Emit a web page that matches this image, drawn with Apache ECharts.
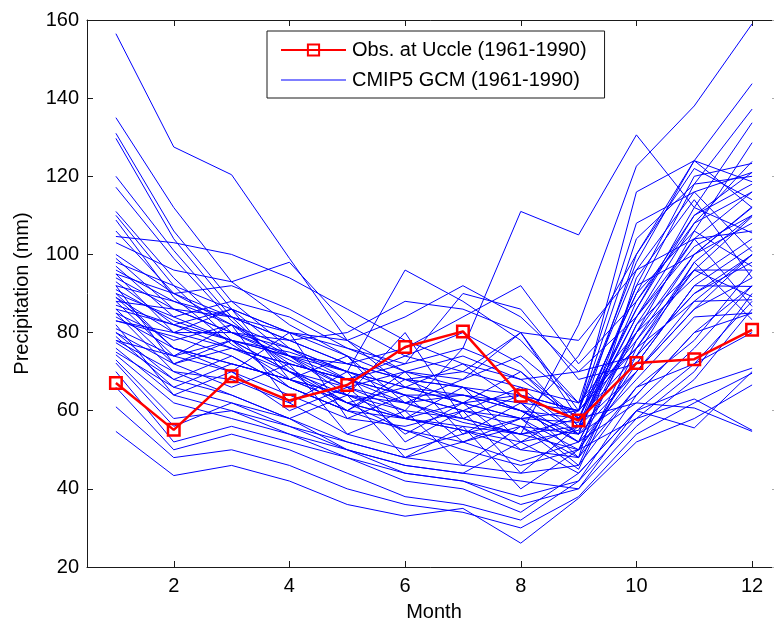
<!DOCTYPE html>
<html>
<head>
<meta charset="utf-8">
<script src="https://cdn.jsdelivr.net/npm/echarts@6/dist/echarts.min.js"></script>
<style>
html,body{margin:0;padding:0;background:#fff;overflow:hidden;}
#chart{width:774px;height:622px;}
</style>
</head>
<body>
<div id="chart"></div>
<script>
// ---- data ----
const months = [1, 2, 3, 4, 5, 6, 7, 8, 9, 10, 11, 12];
const xTickValues = [2, 4, 6, 8, 10, 12];
const yMin = 20, yMax = 160, yStep = 20;
const obsName = 'Obs. at Uccle (1961-1990)';
const gcmName = 'CMIP5 GCM (1961-1990)';
const obsUccle = [67.1, 55.1, 68.8, 62.6, 66.6, 76.3, 80.3, 63.8, 57.5, 72.2, 73.2, 80.7];
const gcmModels = [
  [156.5,127.5,120.4,99,78,70,66,60,54,64,80,92],
  [135,112,93,82,74,68,62,58,60,98,124,143.7],
  [131,106,88,76,68,62,57,54,58,90,118,137.2],
  [129.7,104,86,74,64,58,55,50,56,86,112,133.7],
  [120,101,84,70,60,55,52,47,52,80,106,128.6],
  [117.2,99,83,71,62,58,55,52,55,84,108,123.8],
  [111,94,80,73,66,60,58,54,56,92,120,123.3],
  [110,92,78,75,70,66,62,58,57,100,124,118.6],
  [108.8,89,77,68,62,55,50,46,50,82,104,116],
  [104.6,103,100,94,86,78,72,68,70,74,90,99.9],
  [103,96,93,98,82,74,70,66,62,80,100,112.2],
  [106,90,82,72,68,64,60,56,54,88,110,121],
  [99,86,80,76,70,96,88,78,62,76,96,109.7],
  [97,84,78,70,64,60,76,111,105,130.6,112,105.5],
  [96,88,82,74,66,62,58,54,82,122.6,138,159],
  [95,80,86,68,74,58,66,52,60,96,116,100.7],
  [93,82,86,80,74,62,68,80,58,90,106,96.9],
  [92,72,78,66,60,70,54,62,48,94,114,94],
  [90,84,88,84,76,72,90,86,68,72,92,91.8],
  [90,76,70,80,58,64,52,58,46,78,96,89.2],
  [89,80,76,72,68,74,80,72,56,70,88,88.4],
  [88,74,82,62,70,52,60,44,56,84,104,86.7],
  [87,82,78,70,62,66,72,62,52,68,84,85],
  [86,72,66,72,54,60,46,56,45,76,98,83.3],
  [85,78,82,76,70,64,60,58,74,100,122,114],
  [85,70,64,58,64,48,56,40,50,72,92,102],
  [84,76,72,68,64,80,58,64,60,104,118,120],
  [83,79,74,66,60,58,62,70,58,86,110,118],
  [82,64,70,60,66,54,62,50,48,66,78,96],
  [81,74,70,64,58,56,60,66,54,92,100,108],
  [80,68,74,66,60,68,66,60,52,62,76,92],
  [80,72,76,72,68,72,76,70,56,80,94,104],
  [79,66,62,56,50,46,44,52,44,60,72,88],
  [78,70,68,62,54,50,54,58,50,70,86,94],
  [77.4,68,64,58,52,48,52,56,48,74,90,98],
  [76,64,60,54,48,44,42,38,42,64,80,85],
  [75,66,72,68,62,58,56,54,50,58,70,90],
  [74.3,62,58,54,50,46,44,42,40,56,68,86],
  [72.2,56,62,58,50,44,42,36,40,60,66,70.9],
  [61,48,50,46,40,36,34,30,38,54,62,69.6],
  [54.7,43.4,46,42,36,33,35,26.1,37.6,52,58,66.6],
  [66,50,54,50,44,38,36,32,42,58,63,55],
  [70,52,56,52,48,42,40,34,44,60,55.6,70],
  [73,58,60,56,52,48,46,44,46,66,72,80],
  [100,90,84,80,78,84,92,84,70,84,102,110],
  [94,86,80,78,80,88,86,80,60,78,100,112],
  [91,83,78,74,72,76,84,92,72,88,108,116],
  [98,92,86,80,76,70,68,74,62,108,116,121],
  [88,86,84,78,72,68,70,80,78,96,104,106],
  [95,90,92,86,78,66,62,64,54,70,86,100],
  [83,80,80,74,68,64,64,60,52,82,96,96],
  [86,82,76,70,66,70,74,68,58,74,98,110],
  [89,76,72,68,64,62,64,60,58,62,60.7,54.7],
  [92,88,84,78,72,68,66,64,60,116,124,112],
  [78,74,78,74,70,66,64,62,60,76,88,100]
];

// ---- chart ----
const FONT = '"Liberation Sans", Arial, Helvetica, sans-serif';
const AXIS_COLOR = '#1a1a1a';
const chart = echarts.init(document.getElementById('chart'), null, {renderer: 'canvas'});

const toPairs = row => months.map((m, i) => [m, row[i]]);

const gcmSeries = gcmModels.map(row => ({
  type: 'line',
  name: gcmName,
  data: toPairs(row),
  symbol: 'none',
  showSymbol: false,
  silent: true,
  z: 2,
  lineStyle: {color: '#0000ff', width: 1},
  itemStyle: {color: '#0000ff'}
}));

const obsSeries = {
  type: 'line',
  name: obsName,
  data: toPairs(obsUccle),
  symbol: 'rect',
  symbolSize: 11.5,
  silent: true,
  z: 5,
  lineStyle: {color: '#ff0000', width: 2.5},
  itemStyle: {color: 'rgba(255,255,255,0)', borderColor: '#ff0000', borderWidth: 2.5}
};

const baseX = {
  type: 'value', min: 0.5, max: 12.5,
  axisLine: {show: true, onZero: false, lineStyle: {color: AXIS_COLOR, width: 1}},
  splitLine: {show: false}
};

chart.setOption({
  animation: false,
  backgroundColor: '#ffffff',
  textStyle: {fontFamily: FONT},
  grid: {left: 87, top: 20, width: 694, height: 547, containLabel: false, outerBoundsMode: 'none'},
  legend: {
    show: true,
    data: [
      {name: obsName},
      {name: gcmName, icon: 'path://M0 0H65V1.1H0Z'}
    ],
    orient: 'vertical',
    left: 267,
    top: 31,
    padding: [9, 18, 8, 13],
    itemGap: 10,
    itemWidth: 65,
    itemHeight: 14,
    backgroundColor: '#ffffff',
    borderColor: AXIS_COLOR,
    borderWidth: 1,
    borderRadius: 0,
    selectedMode: false,
    textStyle: {fontFamily: FONT, fontSize: 20, color: '#000', padding: [0, 0, 0, 1]}
  },
  xAxis: [
    Object.assign({}, baseX, {
      position: 'bottom',
      name: 'Month', nameLocation: 'middle', nameGap: 35,
      nameTextStyle: {fontFamily: FONT, fontSize: 20, color: '#000'},
      axisTick: {show: true, inside: true, length: 6, customValues: xTickValues, lineStyle: {color: AXIS_COLOR}},
      axisLabel: {show: true, margin: 9, customValues: xTickValues, fontFamily: FONT, fontSize: 20, color: '#000'}
    }),
    Object.assign({}, baseX, {
      position: 'top',
      axisTick: {show: true, inside: true, length: 6, customValues: xTickValues, lineStyle: {color: AXIS_COLOR}},
      axisLabel: {show: false}
    })
  ],
  yAxis: [
    {
      type: 'value', min: yMin, max: yMax, interval: yStep,
      position: 'left',
      axisLine: {show: true, onZero: false, lineStyle: {color: AXIS_COLOR, width: 1}},
      splitLine: {show: false},
      name: 'Precipitation (mm)', nameLocation: 'middle', nameGap: 55, nameRotate: 90,
      nameTextStyle: {fontFamily: FONT, fontSize: 20, color: '#000'},
      axisTick: {show: true, inside: true, length: 6, lineStyle: {color: AXIS_COLOR}},
      axisLabel: {show: true, margin: 8, fontFamily: FONT, fontSize: 20, color: '#000'}
    },
    {
      type: 'value', min: yMin, max: yMax, interval: yStep,
      position: 'right',
      axisLine: {show: false, onZero: false},
      splitLine: {show: false},
      axisTick: {show: true, inside: true, length: 9, lineStyle: {color: '#aaaaaa'}},
      axisLabel: {show: false}
    }
  ],
  series: gcmSeries.concat([obsSeries])
});
</script>
</body>
</html>
